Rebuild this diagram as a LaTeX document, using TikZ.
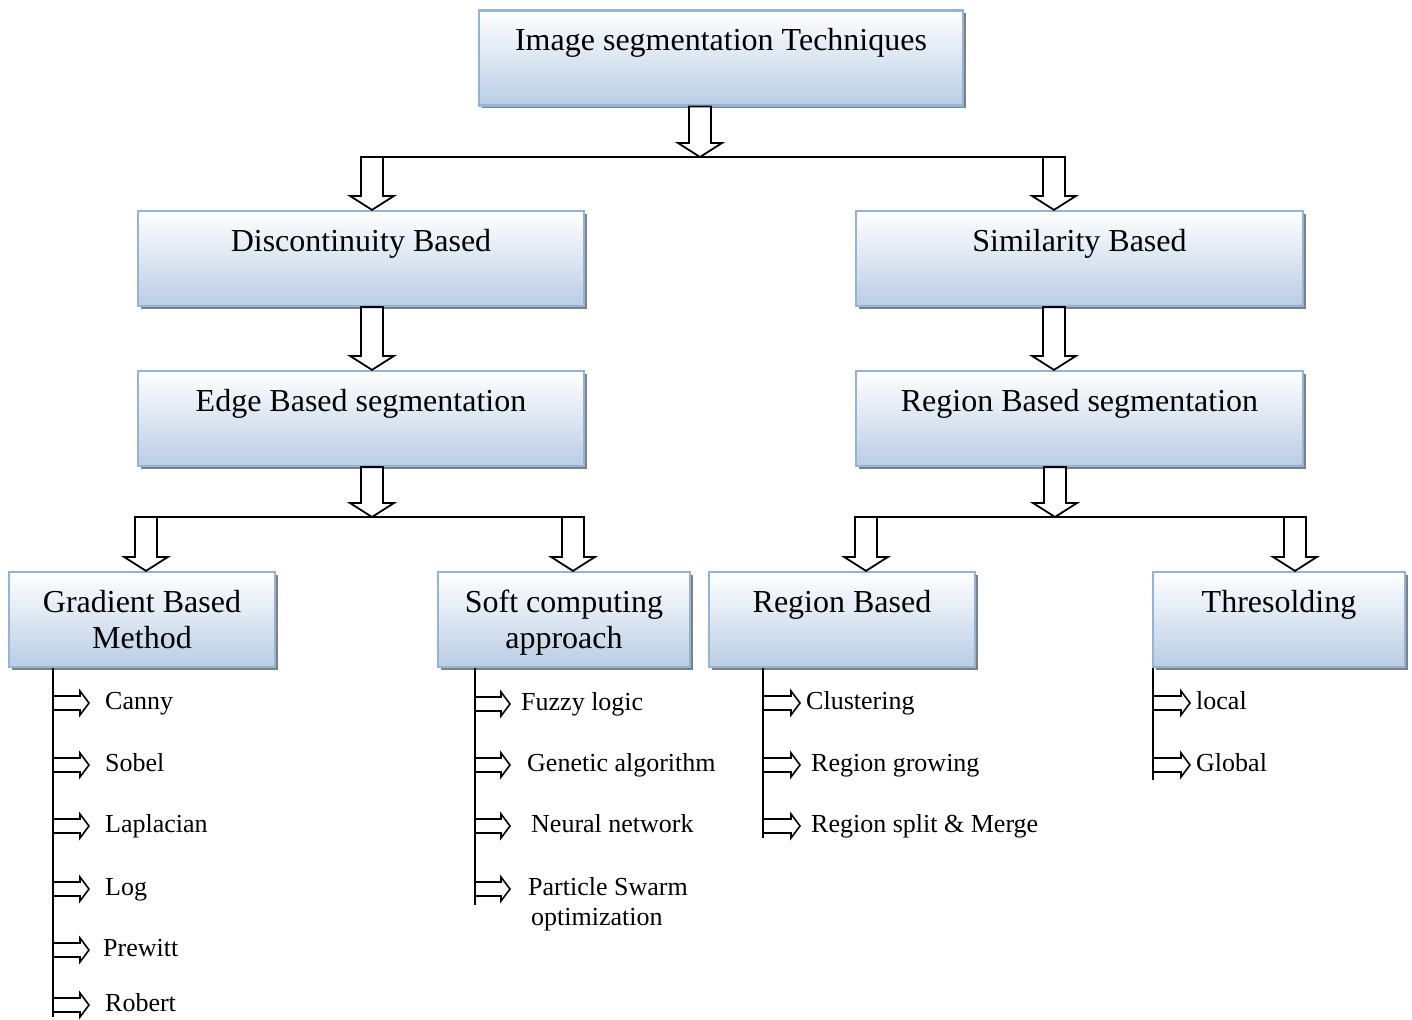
\documentclass[tikz,border=0pt]{standalone}
\usepackage{fontspec}
\setmainfont{Liberation Serif}
\usetikzlibrary{positioning, calc, shadows}

\definecolor{boxline}{RGB}{149,179,215}
\definecolor{boxbot}{RGB}{185,205,229}

\tikzset{
  box/.style={draw=boxline, line width=2.2pt, top color=white, bottom color=boxbot,
    minimum height=95pt, inner sep=0pt, align=center, text depth=0pt,
    font=\fontsize{32}{36}\selectfont,
    drop shadow={shadow xshift=3pt, shadow yshift=-3pt, fill=black!50, opacity=1}},
  onebox/.style={box, text height=22pt, text depth=37pt},
  leaf/.style={inner sep=0pt, anchor=base west, text height=18pt, text depth=6pt,
    font=\fontsize{26}{30}\selectfont},
  bar/.style={line width=1.8pt},
  blockdown/.style={draw=black, line width=1.8pt, fill=white, line join=miter,
    to path={let \p1=(\tikztostart), \p2=(\tikztotarget) in
      (\x1-11pt,\y1) -- (\x1-11pt,\y2+14pt) -- (\x1-22pt,\y2+14pt) -- (\x1,\y2)
      -- (\x1+22pt,\y2+14pt) -- (\x1+11pt,\y2+14pt) -- (\x1+11pt,\y1) -- cycle}},
  blockright/.style={draw=black, line width=1.6pt, fill=white, line join=miter,
    to path={let \p1=(\tikztostart), \p2=(\tikztotarget) in
      (\x1,\y1+7pt) -- (\x2-9pt,\y1+7pt) -- (\x2-9pt,\y1+12pt) -- (\x2,\y1)
      -- (\x2-9pt,\y1-12pt) -- (\x2-9pt,\y1-7pt) -- (\x1,\y1-7pt) -- cycle}}
}

\begin{document}
\begin{tikzpicture}[x=1pt, y=-1pt]
  \useasboundingbox (0,0) rectangle (1412,1019);

  % boxes
  \node[onebox, minimum width=484pt] (top) at (721,58) {Image segmentation Techniques};
  \node[onebox, minimum width=446pt] (disc) at (361,258.5) {Discontinuity Based};
  \node[onebox, minimum width=447pt] (simil) at (1079.5,258.5) {Similarity Based};
  \node[onebox, minimum width=446pt] (edge) at (361,418.5) {Edge Based segmentation};
  \node[onebox, minimum width=447pt] (regseg) at (1079.5,418.5) {Region Based segmentation};
  \node[box, minimum width=266pt] (grad) at (142,619.5) {Gradient Based\\Method};
  \node[box, minimum width=252pt] (soft) at (564,619.5) {Soft computing\\approach};
  \node[onebox, minimum width=266pt] (regb) at (842,619.5) {Region Based};
  \node[onebox, minimum width=252pt] (thres) at (1279,619.5) {Thresolding};

  % first split
  \coordinate (j0) at (700,157);
  \coordinate (jdisc) at (372,157);
  \coordinate (jsim) at (1054,157);
  \draw[bar] ([xshift=-11pt]jdisc) -- ([xshift=11pt]jsim);
  \draw[blockdown] (top.south -| j0) to (j0);
  \draw[blockdown] (jdisc) to (jdisc |- disc.north);
  \draw[blockdown] (jsim) to (jsim |- simil.north);
  \draw[blockdown] (disc.south -| jdisc) to (jdisc |- edge.north);
  \draw[blockdown] (simil.south -| jsim) to (jsim |- regseg.north);

  % left split
  \coordinate (jedge) at (372,517);
  \coordinate (jgrad) at (146,517);
  \coordinate (jsoft) at (573,517);
  \draw[bar] ([xshift=-11pt]jgrad) -- ([xshift=11pt]jsoft);
  \draw[blockdown] (edge.south -| jedge) to (jedge);
  \draw[blockdown] (jgrad) to (jgrad |- grad.north);
  \draw[blockdown] (jsoft) to (jsoft |- soft.north);

  % right split
  \coordinate (jreg) at (1055,517);
  \coordinate (jregb) at (866,517);
  \coordinate (jthr) at (1295,517);
  \draw[bar] ([xshift=-11pt]jregb) -- ([xshift=11pt]jthr);
  \draw[blockdown] (regseg.south -| jreg) to (jreg);
  \draw[blockdown] (jregb) to (jregb |- regb.north);
  \draw[blockdown] (jthr) to (jthr |- thres.north);

  % lists
  \coordinate (gs) at (53,1017);
  \coordinate (ss) at (475,905);
  \coordinate (rs) at (763,838);
  \coordinate (ts) at (1153,780);
  \draw[bar] (gs |- grad.south) -- (gs);
  \draw[bar] (ss |- soft.south) -- (ss);
  \draw[bar] (rs |- regb.south) -- (rs);
  \draw[bar] (ts |- thres.south) -- (ts);

  \foreach \name/\x/\y [count=\i] in {Canny/105/709, Sobel/105/771, Laplacian/105/832,
      Log/105/895, Prewitt/103/956, Robert/105/1011} {
    \node[leaf] (g\i) at (\x,\y) {\name};
    \draw[blockright] (gs |- g\i.west) to ++(36,0);
  }
  \foreach \name/\x/\y [count=\i] in {Fuzzy logic/521/710, Genetic algorithm/527/771,
      Neural network/531/832,
      {\vtop{\hbox{Particle Swarm}\hbox{\hspace{3pt}optimization}}}/528/895} {
    \node[leaf] (s\i) at (\x,\y) {\name};
    \draw[blockright] (ss |- s\i.west) to ++(35,0);
  }
  \foreach \name/\x/\y [count=\i] in {Clustering/806/709, Region growing/811/771,
      Region split \& Merge/811/832} {
    \node[leaf] (r\i) at (\x,\y) {\name};
    \draw[blockright] (rs |- r\i.west) to ++(37,0);
  }
  \foreach \name/\x/\y [count=\i] in {local/1196/709, Global/1196/771} {
    \node[leaf] (t\i) at (\x,\y) {\name};
    \draw[blockright] (ts |- t\i.west) to ++(37,0);
  }
\end{tikzpicture}
\end{document}
